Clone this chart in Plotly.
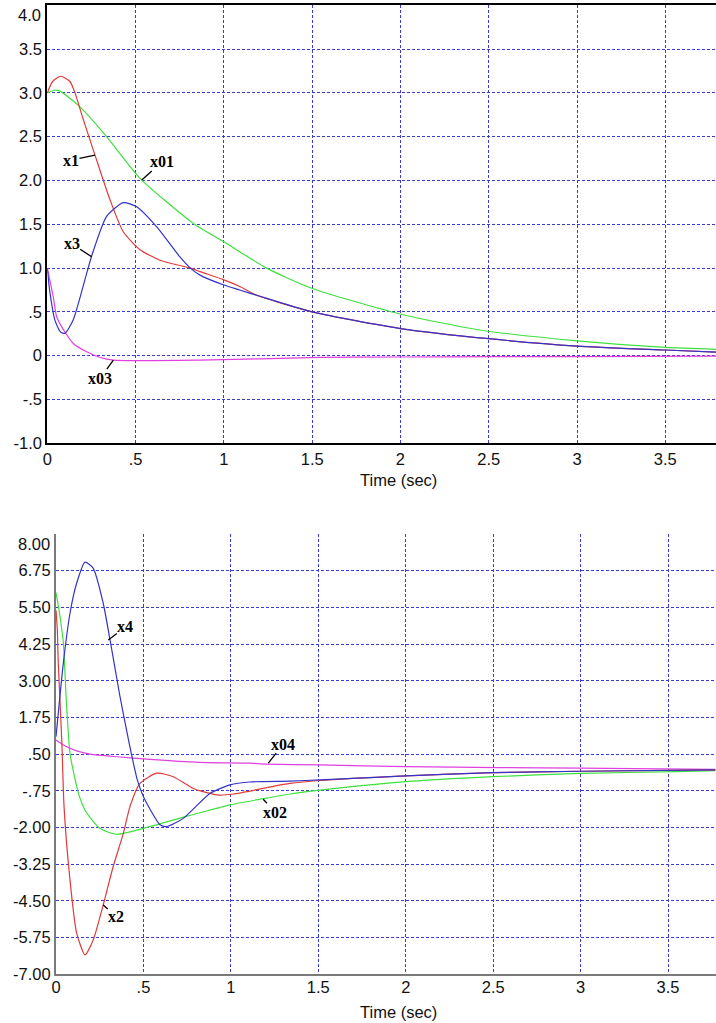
import plotly.graph_objects as go

# ---------------- top panel data ----------------
x1_t = [0, 0.03, 0.076, 0.128, 0.157, 0.2, 0.27, 0.355, 0.43, 0.525, 0.638, 0.81, 0.865, 1.0, 1.09, 1.186, 1.5, 2.0, 2.5, 3.0, 3.5, 3.79]
x1_v = [3.0, 3.13, 3.19, 3.13, 3.0, 2.72, 2.29, 1.78, 1.415, 1.21, 1.09, 1.0, 0.96, 0.865, 0.79, 0.69, 0.50, 0.31, 0.194, 0.11, 0.065, 0.04]

x01_t = [0, 0.04, 0.072, 0.185, 0.336, 0.525, 0.827, 1.0, 1.242, 1.497, 1.997, 2.45, 3.0, 3.5, 3.79]
x01_v = [3.0, 3.03, 3.02, 2.84, 2.5, 2.025, 1.51, 1.30, 1.0, 0.77, 0.476, 0.293, 0.17, 0.095, 0.073]

x3_t = [0, 0.015, 0.044, 0.075, 0.1, 0.147, 0.223, 0.25, 0.336, 0.43, 0.506, 0.62, 0.75, 0.81, 0.865, 1.0, 1.09, 1.186, 1.5, 2.0, 2.5, 3.0, 3.5, 3.79]
x3_v = [1.0, 0.72, 0.40, 0.27, 0.255, 0.41, 0.94, 1.13, 1.59, 1.747, 1.70, 1.47, 1.13, 1.0, 0.92, 0.807, 0.75, 0.69, 0.50, 0.31, 0.194, 0.11, 0.065, 0.04]

x03_t = [0, 0.034, 0.053, 0.1, 0.147, 0.223, 0.3, 0.374, 0.865, 1.544, 2.0, 2.56, 3.0, 3.79]
x03_v = [1.0, 0.67, 0.445, 0.27, 0.14, 0.045, -0.02, -0.05, -0.05, -0.02, -0.015, -0.01, -0.01, -0.005]

# ---------------- bottom panel data ----------------
x4_t = [0, 0.042, 0.08, 0.118, 0.166, 0.213, 0.27, 0.309, 0.366, 0.414, 0.465, 0.5, 0.595, 0.633, 0.728, 0.88, 0.995, 1.109, 1.338, 1.51, 2.0, 2.5, 3.0, 3.77]
x4_v = [1.09, 3.6, 5.3, 6.32, 7.04, 6.83, 5.64, 4.39, 2.46, 1.0, -0.38, -0.95, -1.91, -1.97, -1.69, -0.84, -0.55, -0.45, -0.42, -0.38, -0.245, -0.13, -0.085, -0.04]

x2_t = [0, 0.0076, 0.013, 0.033, 0.046, 0.08, 0.118, 0.166, 0.213, 0.27, 0.327, 0.385, 0.423, 0.48, 0.576, 0.671, 0.785, 0.919, 1.014, 1.2, 1.338, 1.51, 2.0, 2.5, 3.0, 3.77]
x2_v = [5.4, 4.73, 3.6, 0.98, -1.29, -3.79, -5.6, -6.34, -5.83, -4.64, -3.33, -2.2, -1.29, -0.5, -0.15, -0.27, -0.67, -0.89, -0.86, -0.65, -0.5, -0.4, -0.245, -0.13, -0.085, -0.04]

x02_t = [0, 0.02, 0.042, 0.06, 0.08, 0.109, 0.137, 0.175, 0.25, 0.347, 0.5, 0.728, 0.823, 0.995, 1.185, 1.338, 1.51, 2.0, 2.5, 3.0, 3.55, 3.77]
x02_v = [6.0, 5.3, 4.3, 2.2, 0.53, -0.35, -1.0, -1.5, -2.03, -2.23, -2.03, -1.65, -1.5, -1.23, -1.02, -0.86, -0.73, -0.44, -0.27, -0.155, -0.1, -0.06]

x04_t = [0, 0.042, 0.118, 0.195, 0.347, 0.537, 0.823, 1.109, 1.2, 1.51, 2.0, 2.54, 3.0, 3.77]
x04_v = [0.98, 0.81, 0.61, 0.5, 0.41, 0.32, 0.22, 0.19, 0.16, 0.13, 0.07, 0.04, 0.02, -0.02]

# tick labels
x_tickvals = [0, 0.5, 1, 1.5, 2, 2.5, 3, 3.5]
x_ticktext = ["0", ".5", "1", "1.5", "2", "2.5", "3", "3.5"]
top_y_tickvals = [4.0, 3.5, 3.0, 2.5, 2.0, 1.5, 1.0, 0.5, 0, -0.5, -1.0]
top_y_ticktext = ["4.0", "3.5", "3.0", "2.5", "2.0", "1.5", "1.0", ".5", "0", "-.5", "-1.0"]
bot_y_tickvals = [8.0, 6.75, 5.5, 4.25, 3.0, 1.75, 0.5, -0.75, -2.0, -3.25, -4.5, -5.75, -7.0]
bot_y_ticktext = ["8.00", "6.75", "5.50", "4.25", "3.00", "1.75", ".50", "-.75", "-2.00", "-3.25", "-4.50", "-5.75", "-7.00"]

# curve labels: (text, tip x, tip y, text offset px x, px y, axes)
labels = [
    ("x1", 0.27, 2.29, -24, 5, "top"),
    ("x01", 0.535, 2.006, 20, -18, "top"),
    ("x3", 0.251, 1.13, -20, -13, "top"),
    ("x03", 0.374, -0.05, -13, 18, "top"),
    ("x4", 0.299, 4.39, 17, -13, "bot"),
    ("x2", 0.27, -4.64, 13, 12, "bot"),
    ("x04", 1.214, 0.19, 15, -19, "bot"),
    ("x02", 1.185, -1.04, 12, 13, "bot"),
]

RED = "#e03a3a"
GREEN = "#3ee03e"
BLUE = "#3434c8"
MAGENTA = "#e040e0"
GRID = "#3a3ad8"
W, H = 716, 1023

fig = go.Figure()
def add(t, v, color, xa, ya):
    fig.add_trace(go.Scatter(x=t, y=v, mode="lines", xaxis=xa, yaxis=ya,
                             line=dict(color=color, width=1.2, shape="spline", smoothing=0.6),
                             showlegend=False, hoverinfo="skip"))

add(x01_t, x01_v, GREEN, "x", "y")
add(x03_t, x03_v, MAGENTA, "x", "y")
add(x1_t, x1_v, RED, "x", "y")
add(x3_t, x3_v, BLUE, "x", "y")

add(x02_t, x02_v, GREEN, "x2", "y2")
add(x04_t, x04_v, MAGENTA, "x2", "y2")
add(x2_t, x2_v, RED, "x2", "y2")
add(x4_t, x4_v, BLUE, "x2", "y2")

FONT = "Liberation Sans, Arial, sans-serif"
tickfont = dict(family=FONT, size=16.5, color="#111111")
grid_common = dict(showgrid=True, gridcolor=GRID, gridwidth=1, griddash="3px,2px",
                   zeroline=False, ticks="", tickfont=tickfont, automargin=False, fixedrange=True,
                   ticklabeloverflow="allow")

# top-most labels are drawn separately (shifted down inside the frame, as in the reference)
top_disp = ["" if v == top_y_tickvals[0] else s for v, s in zip(top_y_tickvals, top_y_ticktext)]
bot_disp = ["" if v == bot_y_tickvals[0] else s for v, s in zip(bot_y_tickvals, bot_y_ticktext)]

fig.update_layout(
    width=W, height=H,
    margin=dict(l=0, r=0, t=0, b=0),
    paper_bgcolor="white", plot_bgcolor="white",
    xaxis=dict(domain=[47.3 / W, 1], range=[0, 3.787], tickvals=x_tickvals, ticktext=x_ticktext,
               showline=True, linecolor="black", linewidth=2, mirror=True, anchor="y", **grid_common),
    yaxis=dict(domain=[1 - 443.3 / H, 1 - 5.3 / H], range=[-1, 4], tickvals=top_y_tickvals,
               ticktext=top_disp, showline=True, linecolor="black", linewidth=2, anchor="x",
               **grid_common),
    xaxis2=dict(domain=[56 / W, 1], range=[0, 3.774], tickvals=x_tickvals, ticktext=x_ticktext,
                showline=True, linecolor="#7a7a7a", linewidth=2, anchor="y2", ticklabelstandoff=-3,
                **grid_common),
    yaxis2=dict(domain=[1 - 974.2 / H, 1 - 534 / H], range=[-7, 8], tickvals=bot_y_tickvals,
                ticktext=bot_disp, showline=True, linecolor="#7a7a7a", linewidth=2, anchor="x2",
                **grid_common),
)

ann = []
for text, tx, ty, axp, ayp, which in labels:
    xr, yr = ("x", "y") if which == "top" else ("x2", "y2")
    ann.append(dict(text=f"<b>{text}</b>", x=tx, y=ty, xref=xr, yref=yr, ax=axp, ay=ayp,
                    showarrow=True, arrowhead=0, arrowwidth=1.3, arrowcolor="black", standoff=0,
                    font=dict(family="Liberation Serif, Times New Roman, serif", size=16, color="black"),
                    borderpad=0))
# shifted top tick labels
ann.append(dict(text=top_y_ticktext[0], x=43 / W, y=1 - 15 / H, xref="paper", yref="paper",
                showarrow=False, xanchor="right", yanchor="middle", font=tickfont))
ann.append(dict(text=bot_y_ticktext[0], x=51.5 / W, y=1 - 544 / H, xref="paper", yref="paper",
                showarrow=False, xanchor="right", yanchor="middle", font=tickfont))
for yc in (480, 1012):
    ann.append(dict(text="Time (sec)", x=399 / W, y=1 - yc / H, xref="paper", yref="paper",
                    showarrow=False, xanchor="center", yanchor="middle", font=tickfont))
fig.update_layout(annotations=ann)

fig.write_html("out.html", config={"displayModeBar": False},
               post_script="document.body.style.margin='0';document.body.style.overflow='hidden';")
